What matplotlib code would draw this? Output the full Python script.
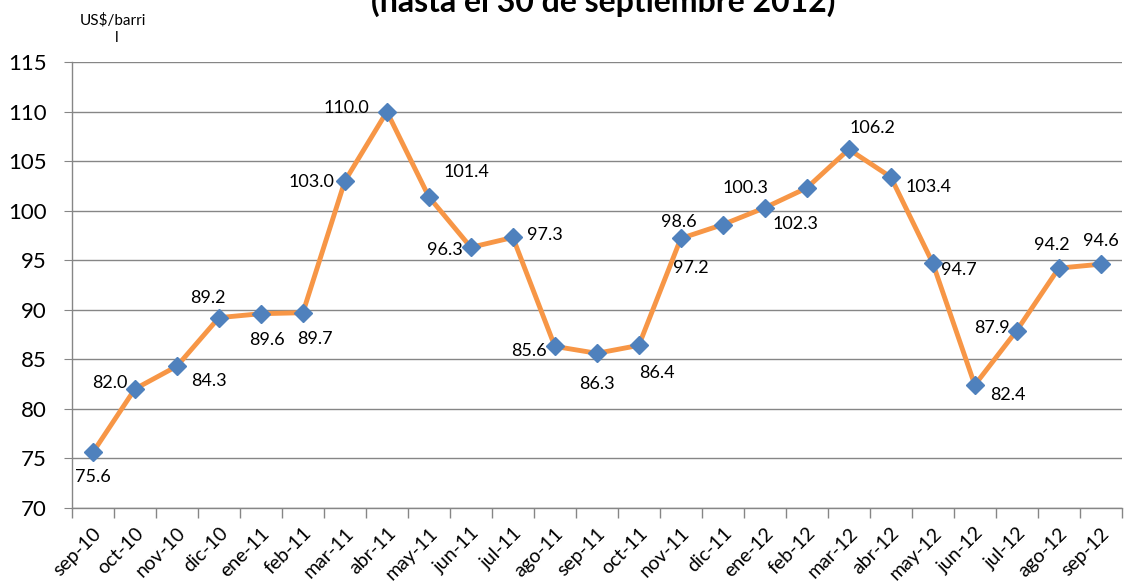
import matplotlib
matplotlib.use('Agg')
import matplotlib.pyplot as plt
import numpy as np

plt.rcParams['font.family'] = ['Lato', 'DejaVu Sans']

# monthly WTI-style oil price, US$/barril
months = ['sep-10', 'oct-10', 'nov-10', 'dic-10', 'ene-11', 'feb-11', 'mar-11',
          'abr-11', 'may-11', 'jun-11', 'jul-11', 'ago-11', 'sep-11', 'oct-11',
          'nov-11', 'dic-11', 'ene-12', 'feb-12', 'mar-12', 'abr-12', 'may-12',
          'jun-12', 'jul-12', 'ago-12', 'sep-12']
prices = [75.6, 82.0, 84.3, 89.2, 89.6, 89.7, 103.0, 110.0, 101.4, 96.3, 97.3,
          86.3, 85.6, 86.4, 97.2, 98.6, 100.3, 102.3, 106.2, 103.4, 94.7, 82.4,
          87.9, 94.2, 94.6]
# data label text as shown in the chart (some are swapped)
label_text = ['75.6', '82.0', '84.3', '89.2', '89.6', '89.7', '103.0', '110.0',
              '101.4', '96.3', '97.3', '85.6', '86.3', '86.4', '97.2', '98.6',
              '100.3', '102.3', '106.2', '103.4', '94.7', '82.4', '87.9', '94.2',
              '94.6']
# label offsets in points (dx, dy) from each marker
offsets = [(0, -18), (-18, 4), (23, -11), (-8, 14), (4, -19), (9, -19), (-24, -1),
           (-29, 3), (27, 18), (-19, -2), (23, 2), (-19, -3), (0, -22), (13, -20),
           (7, -21), (-32, 2), (-14, 14), (-8, -26), (17, 15), (27, -7), (19, -5),
           (24, -7), (-18, 2), (-5, 17), (0, 17)]

fig = plt.figure(figsize=(11.24, 5.81), dpi=100)
ax = fig.add_axes([0.064, 0.126, 0.934, 0.767])

x = np.arange(len(months))
ax.plot(x, prices, color='#F79646', linewidth=3.5, zorder=3)
ax.plot(x, prices, linestyle='none', marker='D', markersize=9.5,
        color='#4F81BD', markeredgecolor='#4F81BD', zorder=4)

for xi, yi, txt, (dx, dy) in zip(x, prices, label_text, offsets):
    ax.annotate(txt, (xi, yi), xytext=(dx, dy), textcoords='offset points',
                ha='center', va='center', fontsize=13, color='black', zorder=5)

ax.set_xlim(-0.5, len(months) - 0.5)
ax.set_ylim(70, 115)
ax.set_yticks(np.arange(70, 116, 5))
ax.tick_params(axis='y', labelsize=16, length=6, color='#868686', pad=12)
ax.grid(axis='y', color='#868686', linewidth=1)
ax.set_axisbelow(True)

ax.set_xticks(x)
ax.set_xticklabels(months, rotation=45, ha='right', rotation_mode='anchor', fontsize=14)
ax.tick_params(axis='x', which='major', length=0, pad=12)
ax.set_xticks(np.arange(-0.5, len(months), 1), minor=True)
ax.tick_params(axis='x', which='minor', length=7, color='#868686', width=1)

for side in ['top', 'right']:
    ax.spines[side].set_visible(False)
for side in ['left', 'bottom']:
    ax.spines[side].set_color('#868686')
    ax.spines[side].set_linewidth(1)

fig.text(0.071, 0.965, 'US$/barri', fontsize=11, ha='left', va='center')
fig.text(0.104, 0.934, 'l', fontsize=11, ha='center', va='center')
fig.text(0.537, 0.997, '(hasta el 30 de septiembre 2012)', fontsize=23,
         fontweight='bold', ha='center', va='center')

fig.savefig('out.png', dpi=100)
